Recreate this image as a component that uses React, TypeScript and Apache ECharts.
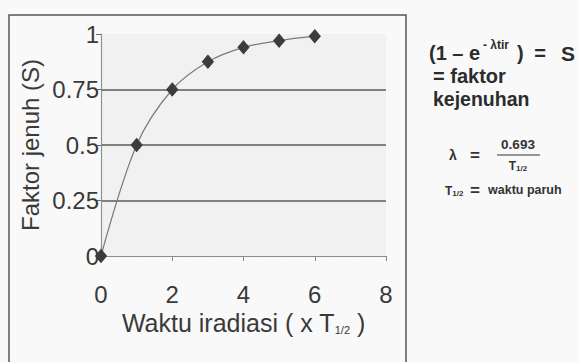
import React, { useEffect, useRef } from 'react';
import * as echarts from 'echarts';

// Data
const xValues = [0, 1, 2, 3, 4, 5, 6];
const sValues = [0, 0.5, 0.75, 0.875, 0.94, 0.97, 0.99];
const xTickLabels = ['0', '2', '4', '6', '8'];
const yTickLabels = ['0', '0.25', '0.5', '0.75', '1'];

const FONT = '"Liberation Sans", Arial, Helvetica, sans-serif';
const TXT = '#3a3a3a';

export default function App() {
  const ref = useRef<HTMLDivElement>(null);

  useEffect(() => {
    document.body.style.margin = '0';
    const chart = echarts.init(ref.current as HTMLDivElement, null, { renderer: 'svg' });
    const pts = xValues.map((x, i) => [x, sValues[i]]);

    const dottedAxis = { show: true, lineStyle: { color: '#8a8a8a', type: 'dotted', width: 1.2 } };

    const bold = (size: number) => `bold ${size}px ${FONT}`;

    chart.setOption({
      animation: false,
      backgroundColor: '#f9f9f9',
      grid: {
        left: 101,
        top: 34,
        width: 285,
        height: 222,
        show: true,
        backgroundColor: '#f1f1f1',
        borderWidth: 0,
      },
      xAxis: [
        {
          type: 'value',
          min: 0,
          max: 8,
          interval: 2,
          position: 'bottom',
          axisLine: dottedAxis,
          axisTick: { show: true, length: 5, lineStyle: { color: '#888' } },
          axisLabel: {
            fontSize: 24,
            color: TXT,
            margin: 26,
            fontFamily: FONT,
            formatter: (v: number) => xTickLabels[Math.round(v / 2)] ?? String(v),
          },
          splitLine: { show: false },
          name: '{n|Waktu iradiasi ( x T}{s|1/2}{n| )}',
          nameLocation: 'middle',
          nameGap: 49,
          nameTextStyle: {
            rich: {
              n: { fontSize: 25, fontFamily: FONT, color: TXT, lineHeight: 26, verticalAlign: 'bottom' },
              s: { fontSize: 11, fontFamily: FONT, color: TXT, lineHeight: 26, verticalAlign: 'bottom' },
            },
          },
        },
        {
          type: 'value',
          min: 0,
          max: 8,
          interval: 2,
          position: 'top',
          axisLine: dottedAxis,
          axisTick: { show: false },
          axisLabel: { show: false },
          splitLine: { show: false },
        },
      ],
      yAxis: [
        {
          type: 'value',
          min: 0,
          max: 1,
          interval: 0.25,
          position: 'left',
          axisLine: { show: true, lineStyle: { color: '#b0b0b0', type: 'dotted', width: 1 } },
          axisTick: { show: true, length: 5, lineStyle: { color: '#666' } },
          axisLabel: {
            fontSize: 24,
            color: TXT,
            margin: 2,
            fontFamily: FONT,
            formatter: (v: number) => yTickLabels[Math.round(v * 4)] ?? String(v),
          },
          splitLine: {
            show: true,
            showMinLine: false,
            showMaxLine: false,
            lineStyle: { color: '#5a5a5a', width: 1.6 },
          },
          name: 'Faktor jenuh (S)',
          nameLocation: 'middle',
          nameGap: 59,
          nameTextStyle: { fontSize: 24, fontFamily: FONT, color: TXT },
        },
        {
          type: 'value',
          min: 0,
          max: 1,
          interval: 0.25,
          position: 'right',
          axisLine: dottedAxis,
          axisTick: { show: false },
          axisLabel: { show: false },
          splitLine: { show: false },
        },
      ],
      series: [
        {
          type: 'line',
          data: pts,
          smooth: 0.35,
          symbol: 'diamond',
          symbolSize: [11, 13],
          lineStyle: { color: '#7a7a7a', width: 1.2 },
          itemStyle: { color: '#3c3c3c', borderColor: '#3c3c3c' },
          z: 5,
        },
      ],
      graphic: [
        {
          type: 'rect',
          shape: { x: 9, y: 15, width: 397, height: 370 },
          style: { fill: 'none', stroke: '#555', lineWidth: 1.5 },
          silent: true,
        },
        { type: 'text', x: 429, y: 53, style: { text: '(1 – e', font: bold(20), fill: '#2c2c2c', textVerticalAlign: 'middle' } },
        { type: 'text', x: 483, y: 45, style: { text: '- λtir', font: bold(12), fill: '#2c2c2c', textVerticalAlign: 'middle' } },
        { type: 'text', x: 517, y: 53, style: { text: ')', font: bold(20), fill: '#2c2c2c', textVerticalAlign: 'middle' } },
        { type: 'text', x: 540, y: 53, style: { text: '=', font: bold(20), fill: '#2c2c2c', textAlign: 'center', textVerticalAlign: 'middle' } },
        { type: 'text', x: 575, y: 53, style: { text: 'S', font: bold(21), fill: '#2c2c2c', textAlign: 'right', textVerticalAlign: 'middle' } },
        { type: 'text', x: 433, y: 76, style: { text: '= faktor', font: bold(20), fill: '#2c2c2c', textVerticalAlign: 'middle' } },
        { type: 'text', x: 433, y: 99, style: { text: 'kejenuhan', font: bold(19.5), fill: '#2c2c2c', textVerticalAlign: 'middle' } },
        { type: 'text', x: 453, y: 155, style: { text: 'λ', font: bold(14), fill: '#333', textAlign: 'center', textVerticalAlign: 'middle' } },
        { type: 'text', x: 475, y: 155, style: { text: '=', font: bold(17), fill: '#333', textAlign: 'center', textVerticalAlign: 'middle' } },
        { type: 'text', x: 518, y: 144, style: { text: '0.693', font: bold(13.5), fill: '#333', textAlign: 'center', textVerticalAlign: 'middle' } },
        { type: 'line', shape: { x1: 497, y1: 155, x2: 540, y2: 155 }, style: { stroke: '#333', lineWidth: 1 } },
        {
          type: 'text', x: 518, y: 165,
          style: {
            text: '{t|T}{s|1/2}', textAlign: 'center', textVerticalAlign: 'middle',
            rich: {
              t: { font: bold(12), fill: '#333', verticalAlign: 'bottom', lineHeight: 14 },
              s: { font: bold(8), fill: '#333', verticalAlign: 'bottom', lineHeight: 12 },
            },
          },
        },
        {
          type: 'text', x: 445, y: 190,
          style: {
            text: '{t|T}{s|1/2}', textVerticalAlign: 'middle',
            rich: {
              t: { font: bold(12), fill: '#333', verticalAlign: 'bottom', lineHeight: 14 },
              s: { font: bold(8), fill: '#333', verticalAlign: 'bottom', lineHeight: 12 },
            },
          },
        },
        { type: 'text', x: 475, y: 190, style: { text: '=', font: bold(17), fill: '#333', textAlign: 'center', textVerticalAlign: 'middle' } },
        { type: 'text', x: 488, y: 190, style: { text: 'waktu paruh', font: bold(12.5), fill: '#333', textVerticalAlign: 'middle' } },
      ],
    });

    return () => chart.dispose();
  }, []);

  return (
    <div
      ref={ref}
      style={{ position: 'fixed', left: 0, top: 0, width: 579, height: 362 }}
    />
  );
}
